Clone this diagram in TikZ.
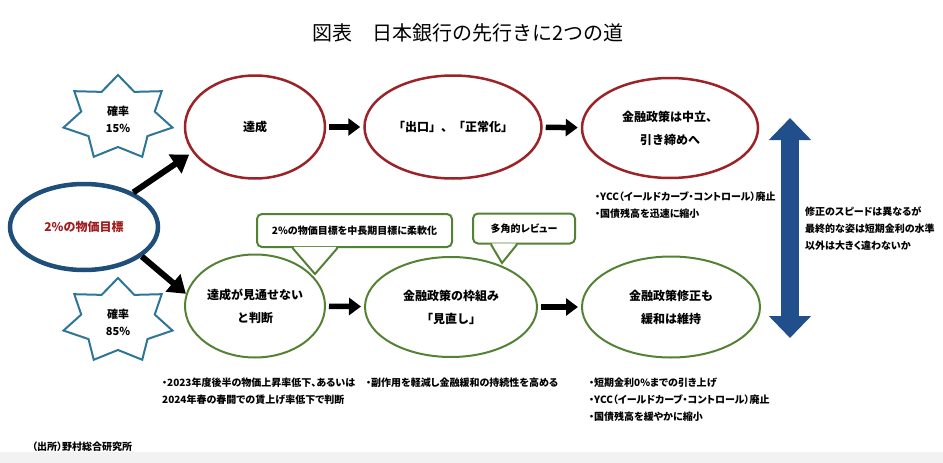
\documentclass[tikz,border=0pt]{standalone}
\usepackage{fontspec}
\setmainfont{Noto Sans CJK JP}
\newfontfamily\notefont[RawFeature=+palt]{Noto Sans CJK JP}
\usepackage{tikz}
\usetikzlibrary{shapes.geometric,arrows.meta}
\definecolor{goalred}{RGB}{155,35,40}
\definecolor{pathgreen}{RGB}{84,130,53}
\definecolor{targetblue}{RGB}{31,78,121}
\definecolor{starblue}{RGB}{46,117,150}
\definecolor{speedblue}{RGB}{33,79,140}
\definecolor{targetred}{RGB}{160,28,30}

\begin{document}
\begin{tikzpicture}[x=1pt, y=1pt,
  bubble/.style={ellipse, draw, inner sep=0pt, align=center, font=\bfseries\fontsize{12}{23}\selectfont},
  redbubble/.style={bubble, draw=goalred, line width=2.5pt},
  greenbubble/.style={bubble, draw=pathgreen, line width=2pt},
  callbox/.style={draw=pathgreen, line width=2pt, rounded corners=5pt, fill=white, inner sep=0pt, font=\notefont\bfseries\fontsize{10}{12}\selectfont},
  calltail/.style={draw=pathgreen, line width=2pt, line join=miter},
  notetext/.style={anchor=west, align=left, inner sep=0pt, font=\notefont\bfseries\fontsize{10}{17}\selectfont},
  starline/.style={draw=starblue, line width=2pt, line join=miter},
  starlabel/.style={align=center, inner sep=0pt, font=\bfseries\fontsize{11}{17}\selectfont},
  fatarrow/.style={line width=5.5pt, -{Triangle[length=12pt,width=17pt]}, shorten <=3pt, shorten >=3pt},
  diagarrow/.style={line width=6pt, -{Triangle[length=17pt,width=22pt]}}
]
  \useasboundingbox (0,0) rectangle (943,-463);
  \fill[black!5] (0,-452) rectangle (943,-463);

  \node[font=\fontsize{20}{20}\selectfont] (title) at (468,-33) {図表　日本銀行の先行きに2つの道};

  \foreach \cy/\pct in {118/15,321/85}{
    \draw[starline, shift={(118,-\cy)}, xscale=1.3]
      (90:43) \foreach \k in {1,...,13}{ -- ({90+\k*180/7}:{ifthenelse(mod(\k,2)==1,29,43)}) } -- cycle;
    \node[starlabel] (p\pct) at (118,{-\cy-1}) {確率\\\pct\%};
  }

  \node[callbox, minimum width=195pt, minimum height=33pt] (flexcall) at (354.5,-230.5) {2\%の物価目標を中長期目標に柔軟化};
  \coordinate (flextip) at (315,-274);
  \fill[white] ([xshift=-61pt,yshift=1.2pt]flexcall.south) -- (flextip) -- ([xshift=-18pt,yshift=1.2pt]flexcall.south) -- cycle;
  \draw[calltail] ([xshift=-62pt]flexcall.south) -- (flextip) -- ([xshift=-17pt]flexcall.south);

  \node[callbox, minimum width=102pt, minimum height=30pt] (reviewcall) at (524,-228.5) {多角的レビュー};
  \coordinate (reviewtip) at (502,-263);
  \fill[white] ([xshift=-32pt,yshift=1.2pt]reviewcall.south) -- (reviewtip) -- ([xshift=-8pt,yshift=1.2pt]reviewcall.south) -- cycle;
  \draw[calltail] ([xshift=-33pt]reviewcall.south) -- (reviewtip) -- ([xshift=-7pt]reviewcall.south);

  \node[bubble, draw=targetblue, line width=4.5pt, minimum width=148pt, minimum height=86pt, text=targetred] (target) at (84,-227) {2\%の物価目標};
  \node[redbubble, minimum width=140pt, minimum height=103pt] (reach) at (255,-127) {達成};
  \node[redbubble, minimum width=177pt, minimum height=103pt] (exit) at (453,-127) {「出口」、「正常化」};
  \node[redbubble, minimum width=176pt, minimum height=100pt] (tighten) at (670,-128) {金融政策は中立、\\引き締めへ};
  \node[greenbubble, minimum width=140pt, minimum height=103pt] (miss) at (255,-306) {達成が見通せない\\と判断};
  \node[greenbubble, minimum width=172pt, minimum height=100pt] (rethink) at (451,-307) {金融政策の枠組み\\「見直し」};
  \node[greenbubble, minimum width=178pt, minimum height=101pt] (keep) at (671,-307) {金融政策修正も\\緩和は維持};

  \path[fatarrow]
  (reach) edge (exit)
  (exit) edge (tighten)
  (miss) edge (rethink)
  (rethink) edge (keep)
  ;
  \path[diagarrow]
  (target.35) edge [shorten >=4pt] (reach.202)
  (target.-27) edge (miss.170)
  ;

  \coordinate (faster) at (790,-118);
  \coordinate (slower) at (790,-338);
  \draw[speedblue, line width=18pt, {Triangle[length=22pt,width=41pt]}-{Triangle[length=22pt,width=41pt]}] (slower) -- (faster);

  \node[notetext] (tightnote) at (595,-205) {・YCC（イールドカーブ・コントロール）廃止\\・国債残高を迅速に縮小};
  \node[notetext] (missnote) at (162,-391.5) {・2023年度後半の物価上昇率低下、あるいは\\2024年春の春闘での賃上げ率低下で判断};
  \node[notetext] (rethinknote) at (366,-383) {・副作用を軽減し金融緩和の持続性を高める};
  \node[notetext] (keepnote) at (589,-400) {・短期金利0\%までの引き上げ\\・YCC（イールドカーブ・コントロール）廃止\\・国債残高を緩やかに縮小};
  \node[notetext] (speednote) at (805,-229) {修正のスピードは異なるが\\最終的な姿は短期金利の水準\\以外は大きく違わないか};
  \node[notetext] (source) at (32,-447) {（出所）野村総合研究所};
\end{tikzpicture}
\end{document}
